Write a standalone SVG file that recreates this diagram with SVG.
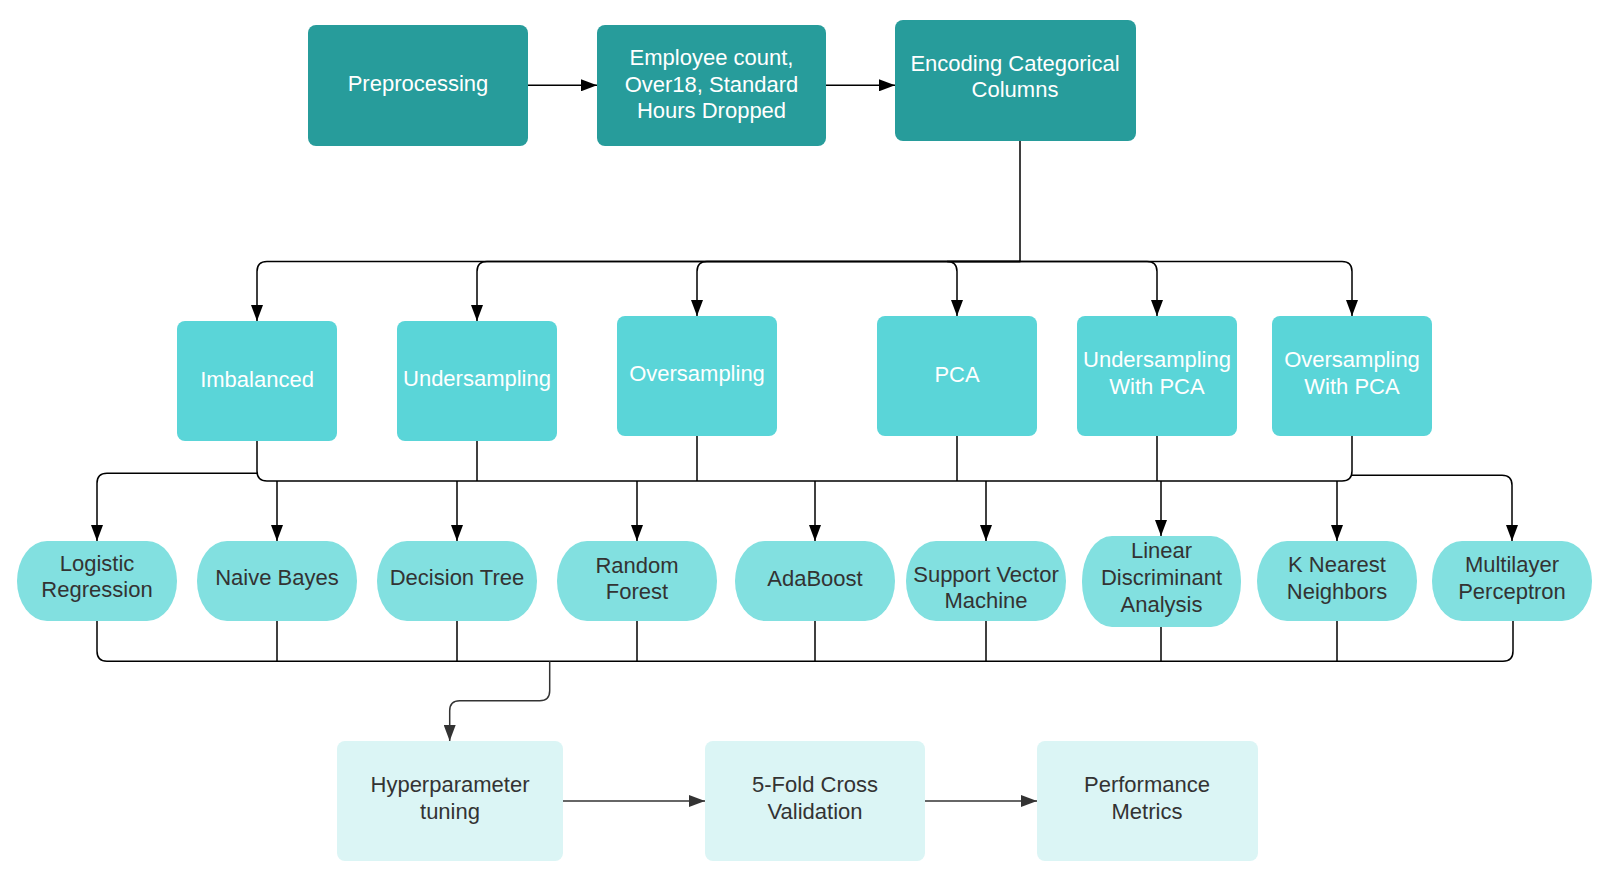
<svg xmlns="http://www.w3.org/2000/svg" width="1604" height="883" viewBox="0 0 1604 883">
<style>
text{font-family:"Liberation Sans",Arial,sans-serif;font-size:22px;text-anchor:middle}
.w{fill:#ffffff}
.d{fill:#333333}
.dark{fill:#279C9B}
.mid{fill:#5AD5D8}
.pill{fill:#82E0E0}
.pale{fill:#DBF5F5}
.c{fill:none;stroke:#000000;stroke-width:1.5}
.g{fill:none;stroke:#333333;stroke-width:1.5}
</style>
<defs>
<marker id="a" markerUnits="userSpaceOnUse" markerWidth="17" markerHeight="12" refX="16" refY="6" orient="auto">
<path d="M0,0 L16,6 L0,12 Z" fill="#000000"/>
</marker>
<marker id="ag" markerUnits="userSpaceOnUse" markerWidth="17" markerHeight="12" refX="16" refY="6" orient="auto">
<path d="M0,0 L16,6 L0,12 Z" fill="#333333"/>
</marker>
</defs>
<rect width="1604" height="883" fill="#ffffff"/>
<g id="connectors">
<path class="c" d="M528,85.3 H597" marker-end="url(#a)"/>
<path class="c" d="M826,85.3 H895" marker-end="url(#a)"/>
<path class="c" d="M1020,141 V261.5 H267 Q257,261.5 257,271.5 V321" marker-end="url(#a)"/>
<path class="c" d="M1020,261.5 H487 Q477,261.5 477,271.5 V321" marker-end="url(#a)"/>
<path class="c" d="M1020,261.5 H707 Q697,261.5 697,271.5 V316" marker-end="url(#a)"/>
<path class="c" d="M1020,261.5 H947 Q957,261.5 957,271.5 V316" marker-end="url(#a)"/>
<path class="c" d="M1020,261.5 H1147 Q1157,261.5 1157,271.5 V316" marker-end="url(#a)"/>
<path class="c" d="M1020,261.5 H1342 Q1352,261.5 1352,271.5 V316" marker-end="url(#a)"/>
<path class="c" d="M257,441 V471 Q257,481 267,481 H1342 Q1352,481 1352,471 V436"/>
<path class="c" d="M477,441 V481"/>
<path class="c" d="M697,436 V481"/>
<path class="c" d="M957,436 V481"/>
<path class="c" d="M1157,436 V481"/>
<path class="c" d="M257,473.3 H107 Q97,473.3 97,483.3 V541" marker-end="url(#a)"/>
<path class="c" d="M1352,475.3 H1502 Q1512,475.3 1512,485.3 V541" marker-end="url(#a)"/>
<path class="c" d="M277,481 V541" marker-end="url(#a)"/>
<path class="c" d="M457,481 V541" marker-end="url(#a)"/>
<path class="c" d="M637,481 V541" marker-end="url(#a)"/>
<path class="c" d="M815,481 V541" marker-end="url(#a)"/>
<path class="c" d="M986,481 V541" marker-end="url(#a)"/>
<path class="c" d="M1161,481 V536" marker-end="url(#a)"/>
<path class="c" d="M1337,481 V541" marker-end="url(#a)"/>
<path class="c" d="M97,621 V651 Q97,661.3 107,661.3 H1503 Q1513,661.3 1513,651 V621"/>
<path class="c" d="M277,621 V661.3"/>
<path class="c" d="M457,621 V661.3"/>
<path class="c" d="M637,621 V661.3"/>
<path class="c" d="M815,621 V661.3"/>
<path class="c" d="M986,621 V661.3"/>
<path class="c" d="M1161,627 V661.3"/>
<path class="c" d="M1337,621 V661.3"/>
<path class="g" d="M549.7,661.3 V690.7 Q549.7,700.7 539.7,700.7 H459.7 Q449.7,700.7 449.7,710.7 V741" marker-end="url(#ag)"/>
<path class="g" d="M563,801 H705" marker-end="url(#ag)"/>
<path class="g" d="M925,801 H1037" marker-end="url(#ag)"/>
</g>
<g id="preprocessing"><rect class="dark" x="308" y="25" width="220" height="121" rx="8"/><text class="w" x="418" y="90.7">Preprocessing</text></g>
<g id="dropped"><rect class="dark" x="597" y="25" width="229" height="121" rx="8"/><text class="w" x="711.5" y="65">Employee count,</text><text class="w" x="711.5" y="91.7">Over18, Standard</text><text class="w" x="711.5" y="118.3">Hours Dropped</text></g>
<g id="encoding"><rect class="dark" x="895" y="20" width="241" height="121" rx="8"/><text class="w" x="1015" y="70.7">Encoding Categorical</text><text class="w" x="1015" y="97.3">Columns</text></g>
<g id="imbalanced"><rect class="mid" x="177" y="321" width="160" height="120" rx="8"/><text class="w" x="257" y="386.7">Imbalanced</text></g>
<g id="undersampling"><rect class="mid" x="397" y="321" width="160" height="120" rx="8"/><text class="w" x="477" y="386">Undersampling</text></g>
<g id="oversampling"><rect class="mid" x="617" y="316" width="160" height="120" rx="8"/><text class="w" x="697" y="380.7">Oversampling</text></g>
<g id="pca"><rect class="mid" x="877" y="316" width="160" height="120" rx="8"/><text class="w" x="957" y="381.7">PCA</text></g>
<g id="under-pca"><rect class="mid" x="1077" y="316" width="160" height="120" rx="8"/><text class="w" x="1157" y="367.3">Undersampling</text><text class="w" x="1157" y="394">With PCA</text></g>
<g id="over-pca"><rect class="mid" x="1272" y="316" width="160" height="120" rx="8"/><text class="w" x="1352" y="367.3">Oversampling</text><text class="w" x="1352" y="394">With PCA</text></g>
<g id="logistic"><rect class="pill" x="17" y="541" width="160" height="80" rx="30" ry="40"/><text class="d" x="97" y="570.7">Logistic</text><text class="d" x="97" y="597.3">Regression</text></g>
<g id="naive-bayes"><rect class="pill" x="197" y="541" width="160" height="80" rx="30" ry="40"/><text class="d" x="277" y="585">Naive Bayes</text></g>
<g id="decision-tree"><rect class="pill" x="377" y="541" width="160" height="80" rx="30" ry="40"/><text class="d" x="457" y="585">Decision Tree</text></g>
<g id="random-forest"><rect class="pill" x="557" y="541" width="160" height="80" rx="30" ry="40"/><text class="d" x="637" y="572.7">Random</text><text class="d" x="637" y="599.3">Forest</text></g>
<g id="adaboost"><rect class="pill" x="735" y="541" width="160" height="80" rx="30" ry="40"/><text class="d" x="815" y="585.7">AdaBoost</text></g>
<g id="svm"><rect class="pill" x="906" y="541" width="160" height="80" rx="30" ry="40"/><text class="d" x="986" y="581.7">Support Vector</text><text class="d" x="986" y="608.3">Machine</text></g>
<g id="lda"><rect class="pill" x="1082" y="536" width="159" height="91" rx="30" ry="45"/><text class="d" x="1161.5" y="558.3">Linear</text><text class="d" x="1161.5" y="585">Discriminant</text><text class="d" x="1161.5" y="611.7">Analysis</text></g>
<g id="knn"><rect class="pill" x="1257" y="541" width="160" height="80" rx="30" ry="40"/><text class="d" x="1337" y="572.3">K Nearest</text><text class="d" x="1337" y="599">Neighbors</text></g>
<g id="mlp"><rect class="pill" x="1432" y="541" width="160" height="80" rx="30" ry="40"/><text class="d" x="1512" y="572.3">Multilayer</text><text class="d" x="1512" y="599">Perceptron</text></g>
<g id="hyperparameter"><rect class="pale" x="337" y="741" width="226" height="120" rx="8"/><text class="d" x="450" y="792">Hyperparameter</text><text class="d" x="450" y="818.7">tuning</text></g>
<g id="cross-validation"><rect class="pale" x="705" y="741" width="220" height="120" rx="8"/><text class="d" x="815" y="792">5-Fold Cross</text><text class="d" x="815" y="818.7">Validation</text></g>
<g id="metrics"><rect class="pale" x="1037" y="741" width="221" height="120" rx="8"/><text class="d" x="1147" y="792">Performance</text><text class="d" x="1147" y="818.7">Metrics</text></g>
</svg>
